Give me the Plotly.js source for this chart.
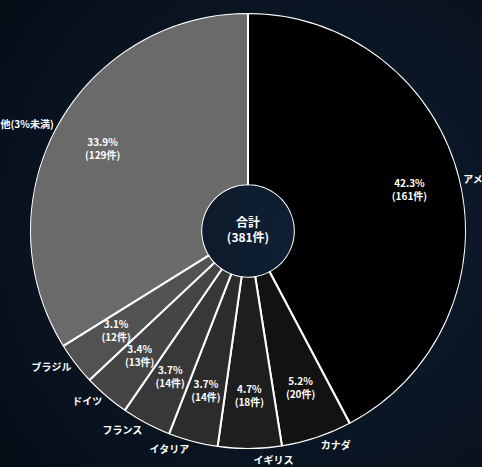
<!DOCTYPE html>
<html><head><meta charset="utf-8">
<script src="https://cdn.plot.ly/plotly-3.0.1.min.js"></script>
<style>
html,body{margin:0;padding:0;width:482px;height:467px;overflow:hidden;
background: radial-gradient(circle at 65% 50%, #102035 0%, #0b1726 45%, #070d17 100%);}
#chart{width:482px;height:467px;}
path.textline{display:none;}
</style></head><body>
<div id="chart"></div>
<script>
const countries = ["アメリカ","カナダ","イギリス","イタリア","フランス","ドイツ","ブラジル","その他(3%未満)"];
const counts = [161,20,18,14,14,13,12,129];
const shares = ["42.3%","5.2%","4.7%","3.7%","3.7%","3.4%","3.1%","33.9%"];
const sliceColors = ["#000000","#121212","#1e1e1e","#2c2c2c","#383838","#454545","#525252","#6a6a6a"];
const total = counts.reduce((a,b)=>a+b,0);

const font = "'Noto Sans CJK JP', 'Noto Sans', sans-serif";
const insideText = counts.map((c,i)=> shares[i] + "<br>(" + c + "件)");

// angular spans derived from the counts
let acc = 0;
const spans = [], mids = [];
counts.forEach(c => { const s = 360*c/total; spans.push(s); mids.push(360*acc/total + s/2); acc += c; });

const dom = {x:[0,1], y:[0,1]};
const traces = [
  {
    type:"barpolar", r:counts.map(()=>1), theta:mids, width:spans,
    marker:{color:sliceColors, line:{color:"#ffffff", width:2}},
    hoverinfo:"skip", showlegend:false
  },
  {
    type:"scatterpolar", mode:"text", r:counts.map(()=>0.7), theta:mids,
    text:insideText, textposition:"middle center",
    textfont:{color:"#ffffff", size:10, family:font, weight:"bold"},
    hoverinfo:"skip", showlegend:false
  },
  {
    type:"pie", values:counts, labels:countries, sort:false, direction:"clockwise",
    hole:0.21, domain:dom,
    marker:{colors:countries.map(()=>"rgba(0,0,0,0)"), line:{width:0}},
    textinfo:"label", textposition:"outside",
    outsidetextfont:{color:"#ffffff", size:10, family:font, weight:"bold"},
    title:{text:"合計<br>(" + total + "件)", position:"middle center", font:{color:"#ffffff", size:12, family:font, weight:"bold"}},
    hoverinfo:"skip", showlegend:false
  }
];
const layout = {
  width:482, height:467,
  margin:{l:30, r:16, t:13, b:18},
  paper_bgcolor:"rgba(0,0,0,0)", plot_bgcolor:"rgba(0,0,0,0)",
  polar:{
    domain:dom, hole:0.21, bgcolor:"rgba(0,0,0,0)", bargap:0,
    radialaxis:{range:[0,1], visible:false, showgrid:false},
    angularaxis:{rotation:90, direction:"clockwise", visible:false, showgrid:false}
  },
  showlegend:false
};
Plotly.newPlot("chart", traces, layout, {staticPlot:true});
</script>
</body></html>
